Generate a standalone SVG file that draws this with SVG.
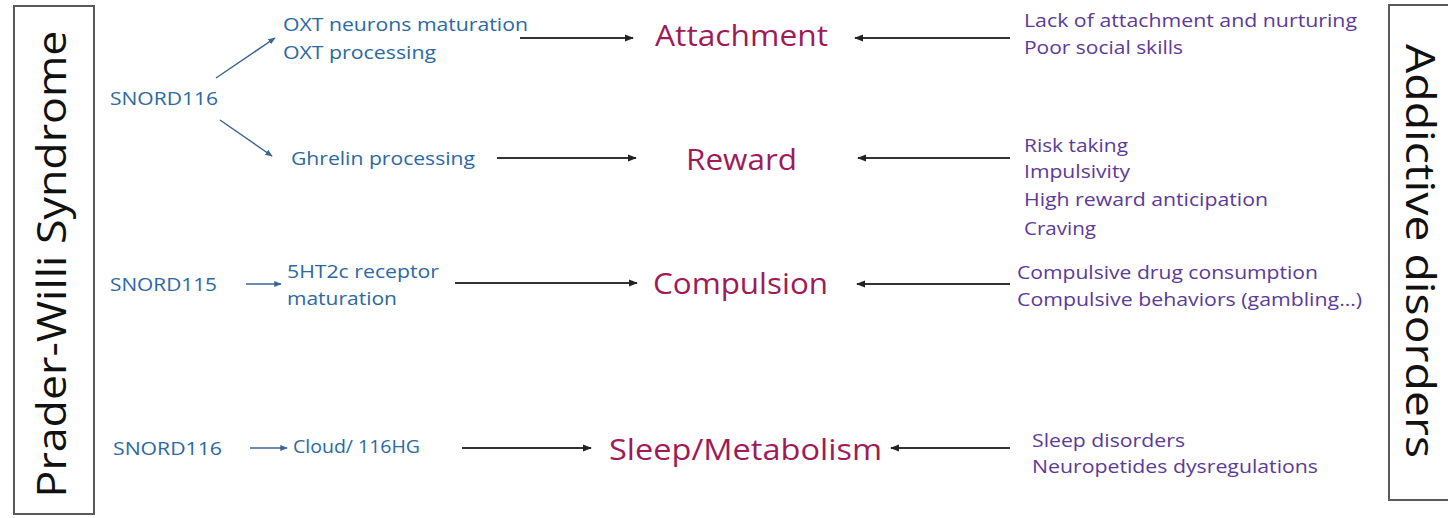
<svg xmlns="http://www.w3.org/2000/svg" width="1448" height="518" viewBox="0 0 1448 518">
<defs>
<style>
.frame{fill:none;stroke:#5a5a5a;stroke-width:2}
.side{font-family:"Open Sans","Liberation Sans",sans-serif;font-size:40px;fill:#111}
.gene{font-family:"Open Sans","Liberation Sans",sans-serif;font-size:18.5px;font-weight:500;fill:#2c68a2}
.mid{font-family:"Open Sans","Liberation Sans",sans-serif;font-size:18.5px;font-weight:500;fill:#2c68a2}
.title{font-family:"Open Sans","Liberation Sans",sans-serif;font-size:29px;font-weight:500;fill:#a01a58}
.beh{font-family:"Open Sans","Liberation Sans",sans-serif;font-size:18.5px;font-weight:500;fill:#5b3a98}
.conn{stroke:#333;stroke-width:1.8;fill:none;marker-end:url(#ah)}
.sconn{stroke:#3b6593;stroke-width:1.5;fill:none;marker-end:url(#ahb)}
</style>
<marker id="ah" viewBox="0 0 10 10" refX="9" refY="5" markerWidth="5" markerHeight="5" orient="auto" markerUnits="strokeWidth">
<path d="M0,1 L10,5 L0,9 z" fill="#222"/>
</marker>
<marker id="ahb" viewBox="0 0 10 10" refX="9" refY="5" markerWidth="5" markerHeight="5" orient="auto" markerUnits="strokeWidth">
<path d="M0,1 L10,5 L0,9 z" fill="#3b6593"/>
</marker>
</defs>
<rect width="1448" height="518" fill="#fff"/>

<g id="pws">
<rect class="frame" x="14" y="6" width="80" height="508"/>
<text class="side" transform="translate(66,264) rotate(-90)" text-anchor="middle" textLength="467" lengthAdjust="spacingAndGlyphs">Prader-Willi Syndrome</text>
</g>

<g id="addictive">
<rect class="frame" x="1389" y="5" width="70" height="495"/>
<text class="side" transform="translate(1406,251) rotate(90)" text-anchor="middle" textLength="414" lengthAdjust="spacingAndGlyphs">Addictive disorders</text>
</g>

<g id="snord116a"><text class="gene" x="110" y="105" textLength="108" lengthAdjust="spacingAndGlyphs">SNORD116</text></g>
<g id="snord115"><text class="gene" x="110" y="291" textLength="107" lengthAdjust="spacingAndGlyphs">SNORD115</text></g>
<g id="snord116b"><text class="gene" x="113" y="455" textLength="109" lengthAdjust="spacingAndGlyphs">SNORD116</text></g>

<g id="oxt">
<text class="mid" x="283" y="31" textLength="245" lengthAdjust="spacingAndGlyphs">OXT neurons maturation</text>
<text class="mid" x="283" y="59" textLength="153" lengthAdjust="spacingAndGlyphs">OXT processing</text>
</g>
<g id="ghrelin"><text class="mid" x="291" y="165" textLength="184" lengthAdjust="spacingAndGlyphs">Ghrelin processing</text></g>
<g id="ht2c">
<text class="mid" x="287" y="278" textLength="152" lengthAdjust="spacingAndGlyphs">5HT2c receptor</text>
<text class="mid" x="287" y="305" textLength="110" lengthAdjust="spacingAndGlyphs">maturation</text>
</g>
<g id="cloud"><text class="mid" x="293" y="453" textLength="127" lengthAdjust="spacingAndGlyphs">Cloud/ 116HG</text></g>

<g id="attachment"><text class="title" x="655" y="46" textLength="173" lengthAdjust="spacingAndGlyphs">Attachment</text></g>
<g id="reward"><text class="title" x="686" y="170" textLength="111" lengthAdjust="spacingAndGlyphs">Reward</text></g>
<g id="compulsion"><text class="title" x="653" y="294" textLength="175" lengthAdjust="spacingAndGlyphs">Compulsion</text></g>
<g id="sleep"><text class="title" x="609" y="460" textLength="273" lengthAdjust="spacingAndGlyphs">Sleep/Metabolism</text></g>

<g id="beh-attach">
<text class="beh" x="1024" y="27" textLength="333" lengthAdjust="spacingAndGlyphs">Lack of attachment and nurturing</text>
<text class="beh" x="1024" y="54" textLength="159" lengthAdjust="spacingAndGlyphs">Poor social skills</text>
</g>
<g id="beh-reward">
<text class="beh" x="1024" y="152" textLength="104" lengthAdjust="spacingAndGlyphs">Risk taking</text>
<text class="beh" x="1024" y="178" textLength="106" lengthAdjust="spacingAndGlyphs">Impulsivity</text>
<text class="beh" x="1024" y="206" textLength="244" lengthAdjust="spacingAndGlyphs">High reward anticipation</text>
<text class="beh" x="1024" y="235" textLength="72" lengthAdjust="spacingAndGlyphs">Craving</text>
</g>
<g id="beh-compulsion">
<text class="beh" x="1017" y="279" textLength="301" lengthAdjust="spacingAndGlyphs">Compulsive drug consumption</text>
<text class="beh" x="1017" y="306" textLength="345" lengthAdjust="spacingAndGlyphs">Compulsive behaviors (gambling…)</text>
</g>
<g id="beh-sleep">
<text class="beh" x="1032" y="447" textLength="153" lengthAdjust="spacingAndGlyphs">Sleep disorders</text>
<text class="beh" x="1032" y="473" textLength="286" lengthAdjust="spacingAndGlyphs">Neuropetides dysregulations</text>
</g>

<g id="connectors">
<line class="sconn" x1="216" y1="78" x2="275" y2="38"/>
<line class="sconn" x1="220" y1="120" x2="272" y2="156"/>
<line class="sconn" x1="246" y1="284" x2="281" y2="284"/>
<line class="sconn" x1="250" y1="448" x2="287" y2="448"/>
<line class="conn" x1="520" y1="38" x2="633" y2="38"/>
<line class="conn" x1="497" y1="158" x2="636" y2="158"/>
<line class="conn" x1="455" y1="283" x2="637" y2="283"/>
<line class="conn" x1="462" y1="448" x2="591" y2="448"/>
<line class="conn" x1="1010" y1="38" x2="855" y2="38"/>
<line class="conn" x1="1010" y1="158" x2="858" y2="158"/>
<line class="conn" x1="1010" y1="284" x2="857" y2="284"/>
<line class="conn" x1="1010" y1="448" x2="891" y2="448"/>
</g>
</svg>
